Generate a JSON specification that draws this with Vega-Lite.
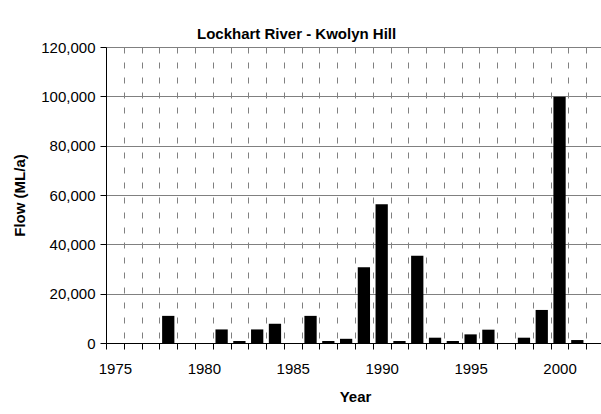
{
  "$schema": "https://vega.github.io/schema/vega-lite/v6.json",
  "autosize": {"type": "none"},
  "padding": {"left": 106, "top": 47, "right": 0, "bottom": 71},
  "width": 498,
  "height": 296,
  "background": "white",
  "config": {
    "font": "Liberation Sans",
    "view": {"stroke": null},
    "axis": {"labelFont": "Liberation Sans", "titleFont": "Liberation Sans", "labelColor": "black", "titleColor": "black"}
  },
  "title": {
    "text": "Lockhart River - Kwolyn Hill",
    "font": "Liberation Sans",
    "fontSize": 15,
    "fontWeight": "bold",
    "color": "black",
    "anchor": "start",
    "frame": "group",
    "dx": 91,
    "baseline": "alphabetic",
    "offset": -14
  },
  "data": {
    "values": [
      {"year": 1978, "flow": 11000},
      {"year": 1981, "flow": 5500},
      {"year": 1982, "flow": 800},
      {"year": 1983, "flow": 5500},
      {"year": 1984, "flow": 7800},
      {"year": 1986, "flow": 11000},
      {"year": 1987, "flow": 800},
      {"year": 1988, "flow": 1700},
      {"year": 1989, "flow": 30700},
      {"year": 1990, "flow": 56200},
      {"year": 1991, "flow": 800},
      {"year": 1992, "flow": 35400},
      {"year": 1993, "flow": 2150},
      {"year": 1994, "flow": 800},
      {"year": 1995, "flow": 3500},
      {"year": 1996, "flow": 5400},
      {"year": 1998, "flow": 2150},
      {"year": 1999, "flow": 13400},
      {"year": 2000, "flow": 99800},
      {"year": 2001, "flow": 1200}
    ]
  },
  "mark": {"type": "bar", "color": "black", "width": {"band": 0.69}},
  "encoding": {
    "x": {
      "field": "year",
      "type": "ordinal",
      "scale": {
        "domain": [1975,1976,1977,1978,1979,1980,1981,1982,1983,1984,1985,1986,1987,1988,1989,1990,1991,1992,1993,1994,1995,1996,1997,1998,1999,2000,2001,2002],
        "paddingInner": 0,
        "paddingOuter": 0
      },
      "axis": {
        "title": "Year",
        "titleFontSize": 15,
        "titleFontWeight": "bold",
        "titlePadding": 13,
        "labelAngle": 0,
        "labelFontSize": 15,
        "labelPadding": 12,
        "labelExpr": "datum.value % 5 == 0 ? datum.label : ''",
        "tickBand": "extent",
        "tickSize": 6,
        "tickColor": "black",
        "tickWidth": 1,
        "domainColor": "black",
        "domainWidth": 1,
        "grid": true,
        "gridColor": "#808080",
        "gridDash": [6, 9],
        "gridWidth": 1
      }
    },
    "y": {
      "field": "flow",
      "type": "quantitative",
      "scale": {"domain": [0, 120000], "nice": false},
      "axis": {
        "title": "Flow (ML/a)",
        "titleFontSize": 15,
        "titleFontWeight": "bold",
        "titlePadding": 13,
        "values": [0, 20000, 40000, 60000, 80000, 100000, 120000],
        "format": ",.0f",
        "labelFontSize": 15,
        "labelPadding": 5,
        "tickSize": 6,
        "tickColor": "black",
        "domainColor": "black",
        "grid": true,
        "gridColor": "#808080",
        "gridWidth": 1
      }
    }
  }
}
